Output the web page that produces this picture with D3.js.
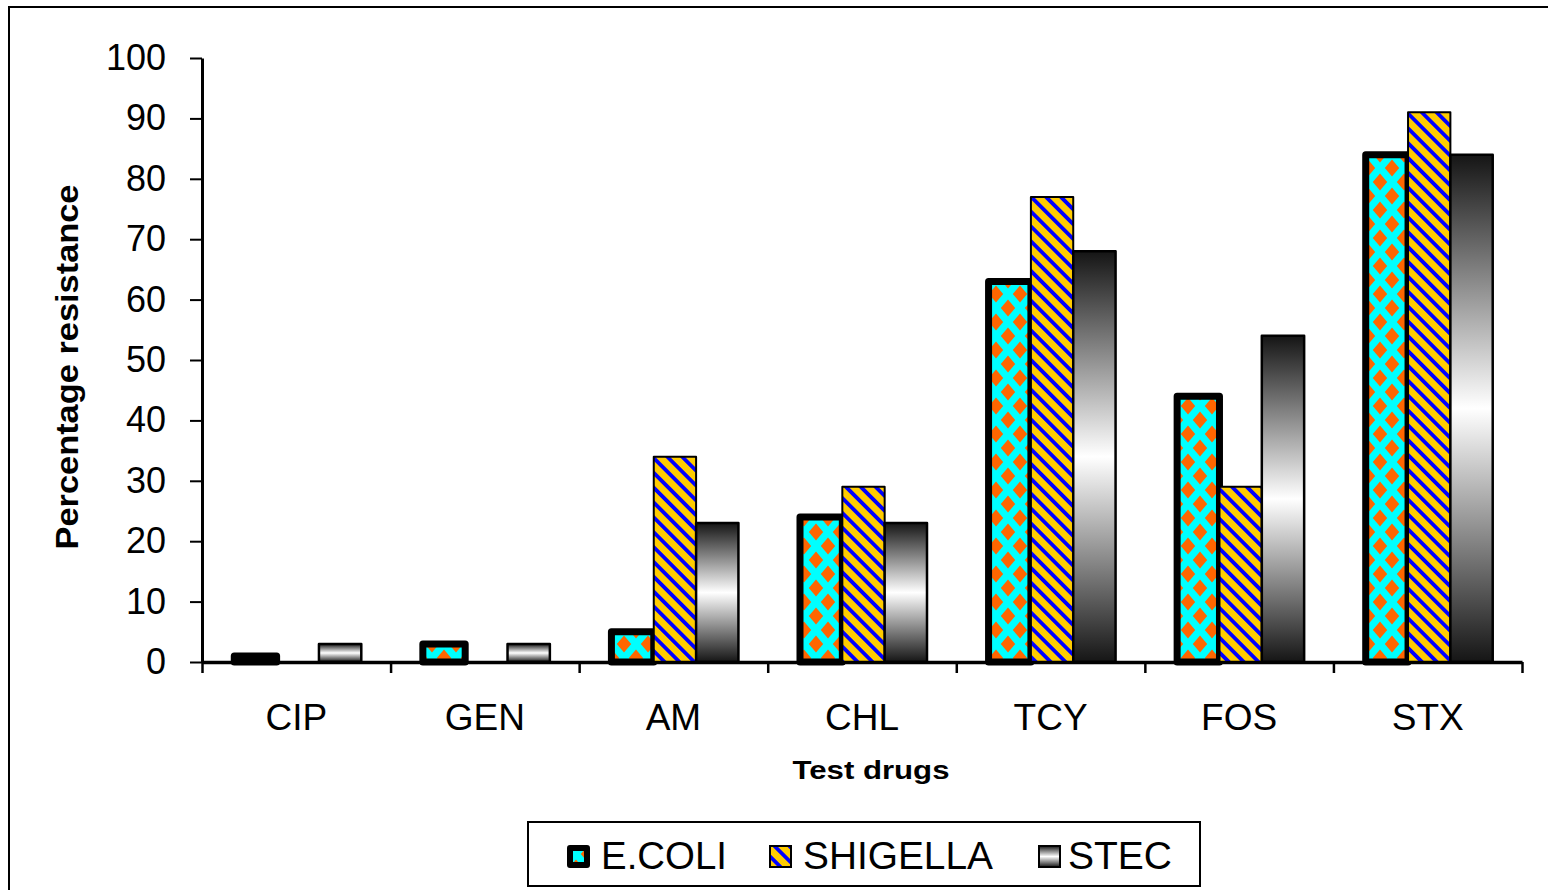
<!DOCTYPE html>
<html><head><meta charset="utf-8">
<script src="https://cdn.jsdelivr.net/npm/d3@7"></script>
<style>
html,body{margin:0;padding:0;background:#fff;}
svg{display:block;font-family:"Liberation Sans",Arial,sans-serif;}
</style></head>
<body>
<svg id="chart" width="1548" height="890"></svg>
<script>
const categories = ["CIP","GEN","AM","CHL","TCY","FOS","STX"];
const seriesNames = ["E.COLI","SHIGELLA","STEC"];
const ecoliValues = [1,3,5,24,63,44,84];
const shigellaValues = [0,0,34,29,77,29,91];
const stecValues = [3,3,23,23,68,54,84];
const yTickValues = [0,10,20,30,40,50,60,70,80,90,100];
const yTitle = "Percentage resistance";
const xTitle = "Test drugs";

const seriesValues = [ecoliValues, shigellaValues, stecValues];
const svg = d3.select("#chart");
const defs = svg.append("defs");

// diamond pattern (E.COLI)
const tw=24, th=28;
const pd = defs.append("pattern").attr("id","diam").attr("patternUnits","userSpaceOnUse")
  .attr("width",tw).attr("height",th);
pd.append("rect").attr("width",tw).attr("height",th).attr("fill","#00FFFF");
const dw=7.2, dh=8.4;
[[0,0],[tw,0],[0,th],[tw,th],[tw/2,th/2]].forEach(([cx,cy])=>{
  pd.append("path").attr("d",`M${cx-dw},${cy}L${cx},${cy-dh}L${cx+dw},${cy}L${cx},${cy+dh}Z`).attr("fill","#FF6600");
});
// stripe pattern (SHIGELLA)
const sp = 10.5;
const ps = defs.append("pattern").attr("id","stripe").attr("patternUnits","userSpaceOnUse")
  .attr("width",sp).attr("height",sp).attr("patternTransform","rotate(-45)");
ps.append("rect").attr("width",sp).attr("height",sp).attr("fill","#FFCC00");
ps.append("rect").attr("width",3.8).attr("height",sp).attr("fill","#0000FF");
// gradient (STEC)
const lg = defs.append("linearGradient").attr("id","grad").attr("x1",0).attr("y1",0).attr("x2",0).attr("y2",1);
lg.append("stop").attr("offset","0").attr("stop-color","#151515");
lg.append("stop").attr("offset","0.5").attr("stop-color","#ffffff");
lg.append("stop").attr("offset","1").attr("stop-color","#151515");

// outer frame
svg.append("rect").attr("x",9).attr("y",7).attr("width",1700).attr("height",1000)
  .attr("fill","none").attr("stroke","#000").attr("stroke-width",2);

const x0 = 202, x1 = 1522, yTop = 58, yBot = 662;
const x = d3.scaleBand().domain(categories).range([x0,x1]).paddingInner(0).paddingOuter(0);
const xs = d3.scaleBand().domain(seriesNames).range([0,x.bandwidth()]).paddingInner(0).paddingOuter(0.727);
const y = d3.scaleLinear().domain([0,100]).range([yBot,yTop]);

const styles = {
  "E.COLI": {fill:"url(#diam)", stroke:"#000", sw:7},
  "SHIGELLA": {fill:"url(#stripe)", stroke:"#000", sw:2},
  "STEC": {fill:"url(#grad)", stroke:"#000", sw:2.5}
};

const data = [];
seriesNames.forEach((s,si)=>categories.forEach((c,ci)=>data.push({s,c,v:seriesValues[si][ci]})));

const bars = svg.append("g");
seriesNames.forEach(s=>{
  bars.selectAll(null).data(data.filter(d=>d.s===s)).enter().append("rect")
    .attr("x",d=>x(d.c)+xs(d.s)+1.5)
    .attr("y",d=>y(d.v))
    .attr("width",xs.bandwidth())
    .attr("height",d=>y(0)-y(d.v))
    .attr("fill",styles[s].fill)
    .attr("stroke",d=>d.v>0?styles[s].stroke:"none")
    .attr("stroke-width",styles[s].sw)
    .attr("stroke-linejoin","round");
});

// y axis
const gy = svg.append("g").attr("transform",`translate(${x0},0)`)
  .call(d3.axisLeft(y).tickValues(yTickValues).tickSize(12).tickSizeOuter(0).tickPadding(24));
gy.select(".domain").attr("stroke","#000").attr("stroke-width",3);
gy.selectAll(".tick line").attr("stroke","#000").attr("stroke-width",2);
gy.selectAll(".tick text").attr("font-size",36).attr("fill","#000")
  .attr("font-family","'Liberation Sans',Arial,sans-serif");

// x axis: boundary ticks
const xLin = d3.scaleLinear().domain([0,categories.length]).range([x0,x1]);
const gxt = svg.append("g").attr("transform",`translate(0,${yBot})`)
  .call(d3.axisBottom(xLin).ticks(categories.length).tickFormat("").tickSize(11).tickSizeOuter(0));
gxt.select(".domain").attr("stroke","#000").attr("stroke-width",3.5);
gxt.selectAll(".tick line").attr("stroke","#000").attr("stroke-width",2.5);
// x axis labels
const gx = svg.append("g").attr("transform",`translate(0,${yBot})`)
  .call(d3.axisBottom(x).tickSize(0).tickPadding(42));
gx.select(".domain").remove();
gx.selectAll(".tick text").attr("font-size",37).attr("fill","#000")
  .attr("font-family","'Liberation Sans',Arial,sans-serif");

// titles
svg.append("text").attr("transform","translate(78,367) rotate(-90)")
  .attr("text-anchor","middle").attr("font-weight","bold").attr("font-size",31)
  .attr("textLength",365).attr("lengthAdjust","spacingAndGlyphs").text(yTitle);
svg.append("text").attr("x",871).attr("y",779)
  .attr("text-anchor","middle").attr("font-weight","bold").attr("font-size",25)
  .attr("textLength",157).attr("lengthAdjust","spacingAndGlyphs").text(xTitle);

// legend
const lgG = svg.append("g");
lgG.append("rect").attr("x",528).attr("y",822).attr("width",672).attr("height",64)
  .attr("fill","#fff").attr("stroke","#000").attr("stroke-width",2);
const legendX = [567, 770, 1039];
const legendTextX = [601, 803, 1068];
const legendLen = [126, 190, 104];
seriesNames.forEach((s,i)=>{
  const st = styles[s];
  if (s==="E.COLI") {
    lgG.append("rect").attr("x",legendX[i]+3).attr("y",845+3).attr("width",17).attr("height",17)
      .attr("fill",st.fill).attr("stroke","#000").attr("stroke-width",6).attr("stroke-linejoin","round");
  } else {
    lgG.append("rect").attr("x",legendX[i]).attr("y",846).attr("width",21).attr("height",21)
      .attr("fill",st.fill).attr("stroke","#000").attr("stroke-width",2);
  }
  lgG.append("text").attr("x",legendTextX[i]).attr("y",869).attr("font-size",38)
    .attr("textLength",legendLen[i]).attr("lengthAdjust","spacingAndGlyphs").text(s);
});
</script>
</body></html>
